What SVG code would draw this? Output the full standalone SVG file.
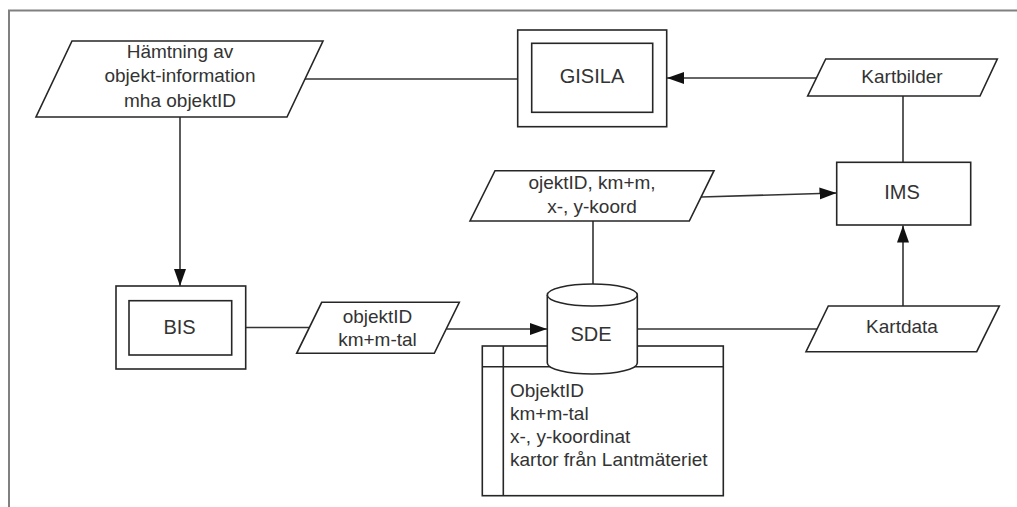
<svg xmlns="http://www.w3.org/2000/svg" width="1017" height="507" viewBox="0 0 1017 507">
  <style>
    .frame { fill: none; stroke: #808080; stroke-width: 2; }
    .shape { fill: #fff; stroke: #262626; stroke-width: 1.6; }
    .edge { fill: none; stroke: #333; stroke-width: 1.6; }
    .lbl { font-family: "Liberation Sans", Arial, sans-serif; font-size: 19px; fill: #333; text-anchor: middle; }
    .node { font-size: 20px; }
    .list { text-anchor: start; }
  </style>
  <defs>
    <marker id="arrow" markerUnits="userSpaceOnUse" markerWidth="18" markerHeight="13" refX="17" refY="6" orient="auto">
      <path d="M0,0 L17,6 L0,12 z" fill="#111"/>
    </marker>
  </defs>

  <rect width="1017" height="507" fill="#fff"/>
  <!-- window frame -->
  <path class="frame" d="M9,507 V10.5 H1017"/>

  <!-- connectors -->
  <g id="connectors">
    <line class="edge" x1="305" y1="79" x2="518" y2="79"/>
    <line class="edge" x1="816.5" y1="78" x2="667" y2="78" marker-end="url(#arrow)"/>
    <line class="edge" x1="180" y1="117" x2="180" y2="286" marker-end="url(#arrow)"/>
    <line class="edge" x1="246" y1="327.5" x2="309.5" y2="327.5"/>
    <line class="edge" x1="446.5" y1="329" x2="547" y2="329" marker-end="url(#arrow)"/>
    <line class="edge" x1="637" y1="329" x2="817.5" y2="329"/>
    <line class="edge" x1="593" y1="221" x2="593" y2="285"/>
    <line class="edge" x1="701" y1="197" x2="836.5" y2="193" marker-end="url(#arrow)"/>
    <line class="edge" x1="903" y1="306" x2="903" y2="225.5" marker-end="url(#arrow)"/>
    <line class="edge" x1="903" y1="96" x2="903" y2="162"/>
  </g>

  <!-- Hämtning av objekt-information -->
  <g id="hamtning">
    <polygon class="shape" points="72,41 323,41 287,117 36,117"/>
    <text class="lbl" x="180" y="57.5">Hämtning av</text>
    <text class="lbl" x="180" y="82">objekt-information</text>
    <text class="lbl" x="180" y="106.5">mha objektID</text>
  </g>

  <!-- GISILA -->
  <g id="gisila">
    <rect class="shape" x="517.7" y="30" width="149" height="96.7"/>
    <rect class="shape" x="531.7" y="43.3" width="121" height="69"/>
    <text class="lbl node" x="592" y="83">GISILA</text>
  </g>

  <!-- Kartbilder -->
  <g id="kartbilder">
    <polygon class="shape" points="825.7,59 997.3,59 980,96 807.7,96"/>
    <text class="lbl" x="902" y="83.3">Kartbilder</text>
  </g>

  <!-- IMS -->
  <g id="ims">
    <rect class="shape" x="836.7" y="162.3" width="134" height="62.7"/>
    <text class="lbl node" x="902" y="199">IMS</text>
  </g>

  <!-- ojektID, km+m, x-, y-koord -->
  <g id="koord">
    <polygon class="shape" points="495,170.7 714,170.7 689.3,221 470,221"/>
    <text class="lbl" x="592" y="189.3">ojektID, km+m,</text>
    <text class="lbl" x="592" y="213.3">x-, y-koord</text>
  </g>

  <!-- Kartdata -->
  <g id="kartdata">
    <polygon class="shape" points="828.3,306 999.3,306 976.7,351.7 806,351.7"/>
    <text class="lbl" x="902" y="333.3">Kartdata</text>
  </g>

  <!-- BIS -->
  <g id="bis">
    <rect class="shape" x="116" y="286" width="129.7" height="83"/>
    <rect class="shape" x="129" y="300.7" width="102.7" height="54.3"/>
    <text class="lbl node" x="179.5" y="334">BIS</text>
  </g>

  <!-- objektID km+m-tal -->
  <g id="objektid">
    <polygon class="shape" points="321.7,302.3 459.3,302.3 434.3,353.3 296.7,353.3"/>
    <text class="lbl" x="377.5" y="322.5">objektID</text>
    <text class="lbl" x="377.5" y="345.5">km+m-tal</text>
  </g>

  <!-- SDE table -->
  <g id="sde-table">
    <rect class="shape" x="482.3" y="346" width="241" height="149.7"/>
    <line class="shape" x1="503.3" y1="346" x2="503.3" y2="495.7"/>
    <line class="shape" x1="482.3" y1="366.7" x2="723.3" y2="366.7"/>
    <text class="lbl list" x="510" y="397">ObjektID</text>
    <text class="lbl list" x="510" y="420">km+m-tal</text>
    <text class="lbl list" x="510" y="443">x-, y-koordinat</text>
    <text class="lbl list" x="510" y="466">kartor från Lantmäteriet</text>
  </g>

  <!-- SDE database -->
  <g id="sde">
    <path class="shape" d="M547.3,295 V363 A45,11 0 0 0 637.3,363 V295 A45,11 0 0 0 547.3,295 Z"/>
    <path class="shape" d="M547.3,295 A45,11 0 0 0 637.3,295" fill="none"/>
    <text class="lbl node" x="591" y="340.7">SDE</text>
  </g>
</svg>
